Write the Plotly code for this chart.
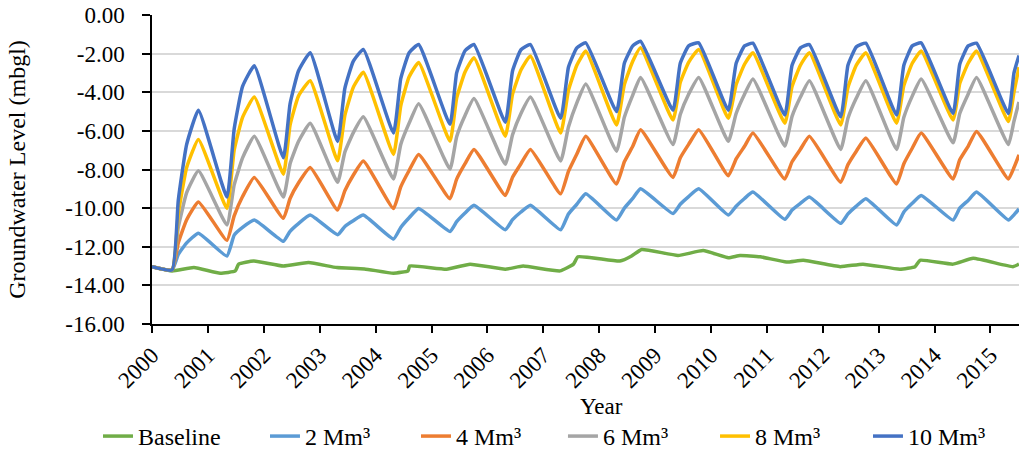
import plotly.graph_objects as go

# time axis (decimal years) shared by the scenario runs
t = [2000.00, 2000.36, 2000.47, 2000.62, 2000.83,
     2001.34, 2001.47, 2001.62, 2001.83,
     2002.35, 2002.47, 2002.62, 2002.83,
     2003.32, 2003.45, 2003.60, 2003.78,
     2004.32, 2004.45, 2004.60, 2004.77,
     2005.33, 2005.45, 2005.60, 2005.76,
     2006.32, 2006.45, 2006.60, 2006.77,
     2007.31, 2007.45, 2007.60, 2007.76,
     2008.31, 2008.45, 2008.60, 2008.74,
     2009.32, 2009.45, 2009.60, 2009.78,
     2010.31, 2010.45, 2010.60, 2010.75,
     2011.32, 2011.45, 2011.60, 2011.76,
     2012.32, 2012.45, 2012.60, 2012.77,
     2013.32, 2013.45, 2013.60, 2013.76,
     2014.33, 2014.45, 2014.60, 2014.75,
     2015.32, 2015.42, 2015.51]

mm2 = [-13.03, -13.20, -12.40, -11.80, -11.30,
       -12.48, -11.40, -11.00, -10.62,
       -11.72, -11.20, -10.80, -10.36,
       -11.38, -10.95, -10.65, -10.36,
       -11.60, -11.00, -10.50, -10.02,
       -11.21, -10.70, -10.25, -9.85,
       -11.12, -10.60, -10.20, -9.85,
       -11.12, -10.30, -9.80, -9.26,
       -10.62, -10.00, -9.50, -9.00,
       -10.28, -9.80, -9.40, -9.00,
       -10.36, -9.90, -9.50, -9.17,
       -10.58, -10.10, -9.75, -9.43,
       -10.79, -10.30, -9.90, -9.51,
       -10.87, -10.20, -9.75, -9.34,
       -10.62, -10.00, -9.60, -9.17,
       -10.62, -10.35, -10.04]

mm4 = [-13.03, -13.20, -11.80, -10.60, -9.68,
       -11.67, -10.40, -9.40, -8.41,
       -10.53, -9.50, -8.70, -7.90,
       -10.10, -9.10, -8.30, -7.56,
       -10.02, -8.90, -8.05, -7.22,
       -9.51, -8.50, -7.70, -6.96,
       -9.34, -8.40, -7.70, -6.96,
       -9.26, -8.10, -7.20, -6.28,
       -8.75, -7.60, -6.80, -5.94,
       -8.41, -7.40, -6.70, -5.94,
       -8.32, -7.45, -6.80, -6.11,
       -8.49, -7.60, -6.95, -6.28,
       -8.66, -7.75, -7.05, -6.37,
       -8.75, -7.70, -6.90, -6.11,
       -8.49, -7.50, -6.80, -6.03,
       -8.49, -7.90, -7.24]

mm6 = [-13.03, -13.20, -11.00, -9.20, -8.07,
       -10.87, -8.80, -7.40, -6.28,
       -9.43, -7.70, -6.55, -5.60,
       -8.66, -7.10, -6.10, -5.27,
       -8.49, -6.70, -5.60, -4.59,
       -7.98, -6.30, -5.20, -4.33,
       -7.73, -6.20, -5.10, -4.25,
       -7.56, -5.80, -4.55, -3.57,
       -7.05, -5.30, -4.15, -3.23,
       -6.71, -5.15, -4.10, -3.23,
       -6.54, -5.10, -4.10, -3.31,
       -6.79, -5.25, -4.25, -3.40,
       -6.96, -5.35, -4.30, -3.40,
       -6.96, -5.30, -4.20, -3.31,
       -6.62, -5.10, -4.10, -3.23,
       -6.71, -5.50, -4.50]

mm8 = [-13.03, -13.20, -10.30, -7.90, -6.45,
       -10.02, -7.00, -5.30, -4.25,
       -8.24, -5.70, -4.20, -3.40,
       -7.55, -5.20, -3.75, -2.97,
       -7.22, -4.70, -3.20, -2.46,
       -6.54, -4.30, -2.95, -2.21,
       -6.28, -4.10, -2.85, -2.12,
       -6.11, -3.90, -2.60, -1.87,
       -5.69, -3.60, -2.40, -1.70,
       -5.44, -3.50, -2.45, -1.78,
       -5.35, -3.60, -2.55, -1.95,
       -5.60, -3.70, -2.60, -1.95,
       -5.69, -3.75, -2.60, -1.95,
       -5.60, -3.65, -2.50, -1.87,
       -5.44, -3.55, -2.50, -1.87,
       -5.52, -4.00, -2.70]

mm10 = [-13.03, -13.20, -9.60, -6.70, -4.93,
        -9.43, -5.90, -3.70, -2.63,
        -7.39, -4.60, -2.90, -1.95,
        -6.55, -3.80, -2.40, -1.78,
        -6.11, -3.30, -1.95, -1.53,
        -5.66, -3.00, -1.85, -1.53,
        -5.55, -2.90, -1.80, -1.53,
        -5.35, -2.70, -1.70, -1.44,
        -5.00, -2.50, -1.60, -1.36,
        -4.93, -2.50, -1.60, -1.44,
        -4.93, -2.50, -1.60, -1.46,
        -5.18, -2.60, -1.70, -1.53,
        -5.27, -2.60, -1.65, -1.46,
        -5.18, -2.60, -1.60, -1.44,
        -5.10, -2.55, -1.60, -1.46,
        -5.10, -3.00, -2.10]

# baseline has its own time points
t_base = [2000.00, 2000.36, 2000.75, 2001.22, 2001.49, 2001.55, 2001.82,
          2002.35, 2002.80, 2003.31, 2003.80, 2004.32, 2004.58, 2004.61,
          2005.27, 2005.69, 2006.32, 2006.64, 2007.30, 2007.54, 2007.62,
          2008.37, 2008.58, 2008.76, 2009.41, 2009.86, 2010.31, 2010.52,
          2010.88, 2011.35, 2011.65, 2012.31, 2012.72, 2013.38, 2013.65,
          2013.74, 2014.33, 2014.69, 2015.40, 2015.51]
baseline = [-13.03, -13.25, -13.08, -13.37, -13.25, -12.90, -12.74,
            -13.00, -12.82, -13.08, -13.15, -13.37, -13.25, -13.00,
            -13.16, -12.90, -13.16, -13.00, -13.25, -12.90, -12.52,
            -12.74, -12.48, -12.14, -12.45, -12.20, -12.57, -12.45,
            -12.52, -12.79, -12.70, -13.03, -12.90, -13.16, -13.03,
            -12.70, -12.90, -12.60, -13.03, -12.90]

years = list(range(2000, 2016))
y_ticks = [0, -2, -4, -6, -8, -10, -12, -14, -16]
y_labels = ["0.00", "-2.00", "-4.00", "-6.00", "-8.00", "-10.00", "-12.00", "-14.00", "-16.00"]

series = [
    ("Baseline", t_base, baseline, "#70AD47"),
    ("2 Mm³", t, mm2, "#5B9BD5"),
    ("4 Mm³", t, mm4, "#ED7D31"),
    ("6 Mm³", t, mm6, "#A5A5A5"),
    ("8 Mm³", t, mm8, "#FFC000"),
    ("10 Mm³", t, mm10, "#4472C4"),
]
# each legend entry gets its own legend box so the spacing follows the original
legend_x = [-0.0623, 0.1303, 0.3045, 0.4740, 0.6494, 0.8258]

font = "Liberation Serif, Times New Roman, serif"

fig = go.Figure()
legends = {}
for i, (name, x, y, col) in enumerate(series):
    key = "legend" if i == 0 else "legend%d" % (i + 1)
    fig.add_trace(go.Scatter(x=x, y=y, mode="lines", name=name, legend=key,
                             line=dict(color=col, width=3.5, shape="spline", smoothing=0.4)))
    legends[key] = dict(orientation="h", x=legend_x[i], xanchor="left",
                        y=-0.364, yanchor="middle", bgcolor="rgba(0,0,0,0)",
                        font=dict(family=font, size=24), itemwidth=30)

fig.update_layout(
    width=1019, height=459,
    margin=dict(l=152, r=0, t=15, b=130),
    plot_bgcolor="white", paper_bgcolor="white",
    font=dict(family=font, size=23, color="black"),
    showlegend=True,
    **legends,
)
fig.add_annotation(text="Year", xref="paper", yref="paper", x=0.519, y=-0.268,
                   xanchor="center", yanchor="middle", showarrow=False,
                   font=dict(family=font, size=23))
fig.update_xaxes(
    range=[2000, 2015.51], tickvals=years, ticktext=[str(v) for v in years],
    tickangle=-45, showgrid=False, zeroline=False,
    showline=True, linecolor="black", linewidth=1.5,
    ticks="outside", ticklen=7, tickcolor="black", tickwidth=1.5,
    tickfont=dict(family=font, size=23), ticklabeloverflow="allow",
)
fig.update_yaxes(
    range=[-16, 0], tickvals=y_ticks, ticktext=y_labels,
    showgrid=True, gridcolor="#D9D9D9", gridwidth=1.5, zeroline=False,
    showline=True, linecolor="black", linewidth=1.5,
    ticks="outside", ticklen=8, tickcolor="black", tickwidth=1.5,
    tickfont=dict(family=font, size=23), ticklabeloverflow="allow", ticklabelstandoff=13,
    title=dict(text="Groundwater Level (mbgl)", standoff=33, font=dict(family=font, size=24)),
)

# drop the default page margin so the figure fills the window exactly
fig.write_html("out.html", config={"displayModeBar": False},
               post_script="document.body.style.margin='0px';document.body.style.overflow='hidden';")
